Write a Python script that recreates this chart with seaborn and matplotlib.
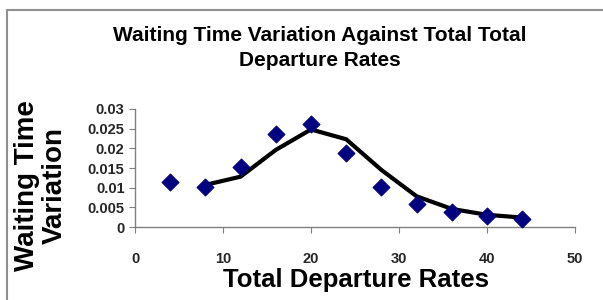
import matplotlib
matplotlib.use("Agg")
import matplotlib.pyplot as plt
import seaborn as sns
import pandas as pd
from matplotlib.patches import Rectangle

# data
departure_rates = [4, 8, 12, 16, 20, 24, 28, 32, 36, 40, 44]
waiting_var = [0.0115, 0.0102, 0.0152, 0.0237, 0.0261, 0.0187, 0.0101, 0.0058, 0.0037, 0.0027, 0.0021]
# moving-average trend line values
trend_x = [8, 12, 16, 20, 24, 28, 32, 36, 40, 44]
trend_y = [0.0107, 0.0128, 0.0196, 0.0248, 0.0223, 0.0145, 0.0078, 0.0046, 0.0031, 0.0024]

x_ticks = [0, 10, 20, 30, 40, 50]
y_ticks = [0, 0.005, 0.01, 0.015, 0.02, 0.025, 0.03]
y_tick_labels = ["0", "0.005", "0.01", "0.015", "0.02", "0.025", "0.03"]

pts = pd.DataFrame({"rate": departure_rates, "var": waiting_var})
trend = pd.DataFrame({"rate": trend_x, "var": trend_y})

sns.set_style("white")
plt.rcParams['font.family'] = ['Liberation Sans', 'DejaVu Sans']
plt.rcParams['font.weight'] = 'bold'

fig = plt.figure(figsize=(6.03, 3.0), dpi=100)
ax = fig.add_axes([0.2239, 0.2433, 0.7297, 0.3934])

# outer chart border
fig.patches.append(Rectangle((7 / 603, -0.1), 1.2, 1 - 10 / 300 + 0.1, transform=fig.transFigure,
                             fill=False, edgecolor='#909090', linewidth=1.5))

sns.lineplot(data=trend, x="rate", y="var", color='black', linewidth=3, ax=ax, zorder=2)
sns.scatterplot(data=pts, x="rate", y="var", marker='D', s=75, color='#000080',
                edgecolor='#000080', ax=ax, zorder=3, clip_on=False)

ax.set_xlim(0, 50)
ax.set_ylim(0, 0.03)
ax.set_xticks(x_ticks)
ax.set_yticks(y_ticks)
ax.set_yticklabels(y_tick_labels)
for s in ['top', 'right']:
    ax.spines[s].set_visible(False)
for s in ['left', 'bottom']:
    ax.spines[s].set_color('#808080')
    ax.spines[s].set_linewidth(1)
ax.tick_params(axis='both', which='major', direction='out', length=4, color='#808080',
               labelsize=10.5, bottom=True, left=True)
ax.tick_params(axis='x', pad=14)
for lab in ax.get_xticklabels() + ax.get_yticklabels():
    lab.set_fontweight('bold')

ax.set_xlabel("")
ax.set_ylabel("")
fig.text(356 / 603, 1 - 287 / 300, "Total Departure Rates", ha='center', va='baseline',
         fontsize=18.5, fontweight='bold', color='black')
fig.text(41 / 603, 1 - 186 / 300, "Waiting Time\nVariation", rotation=90, ha='center', va='center',
         fontsize=20, fontweight='bold', linespacing=1.05, color='black')

fig.text(320 / 603, 1 - 48 / 300, "Waiting Time Variation Against Total Total\nDeparture Rates",
         ha='center', va='center', fontsize=15, fontweight='bold', linespacing=1.4, color='black')

fig.savefig("out.png", dpi=100)
